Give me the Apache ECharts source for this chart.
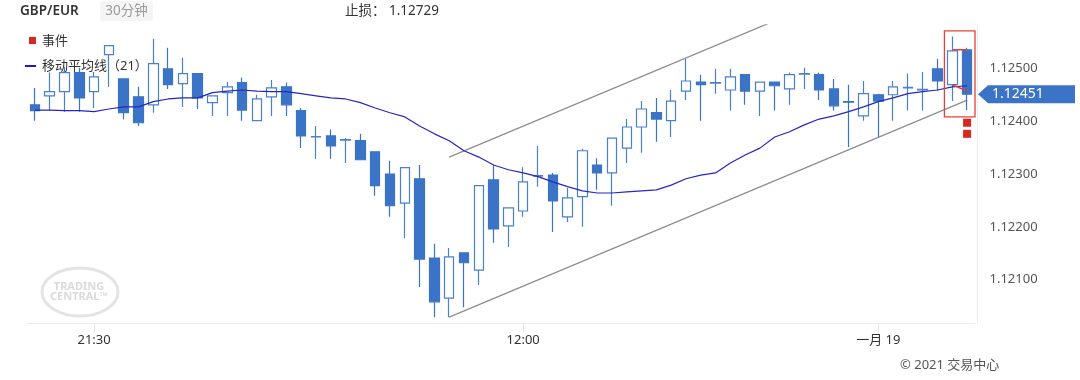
<!DOCTYPE html>
<html><head><meta charset="utf-8">
<script src="https://cdn.jsdelivr.net/npm/echarts@6/dist/echarts.min.js"></script>
<style>html,body{margin:0;padding:0;background:#fff}#c{width:1080px;height:380px}</style>
</head><body><div id="c"></div>
<script>
// ---- data ----
const categories = [
 '01-17 19:30','01-17 20:00','01-17 20:30','01-17 21:00','01-17 21:30','01-17 22:00','01-17 22:30','01-17 23:00','01-17 23:30',
 '01-18 00:00','01-18 00:30','01-18 01:00','01-18 01:30','01-18 02:00','01-18 02:30','01-18 03:00','01-18 03:30','01-18 04:00','01-18 04:30',
 '01-18 05:00','01-18 05:30','01-18 06:00','01-18 06:30','01-18 07:00','01-18 07:30','01-18 08:00','01-18 08:30','01-18 09:00','01-18 09:30',
 '01-18 10:00','01-18 10:30','01-18 11:00','01-18 11:30','01-18 12:00','01-18 12:30','01-18 13:00','01-18 13:30','01-18 14:00','01-18 14:30',
 '01-18 15:00','01-18 15:30','01-18 16:00','01-18 16:30','01-18 17:00','01-18 17:30','01-18 18:00','01-18 18:30','01-18 19:00','01-18 19:30',
 '01-18 20:00','01-18 20:30','01-18 21:00','01-18 21:30','01-18 22:00','01-18 22:30','01-18 23:00','01-18 23:30',
 '01-19 00:00','01-19 00:30','01-19 01:00','01-19 01:30','01-19 02:00','01-19 02:30','01-19 03:00'
];
const xTickLabels = {4: '21:30', 33: '12:00', 57: '一月 19'};

const openVals = [
 1.12431,1.12448,1.12456,1.12492,1.12456,1.12526,1.12480,1.12446,1.12431,1.12499,
 1.12471,1.12490,1.12435,1.12454,1.12473,1.12401,1.12446,1.12465,1.12420,1.12370,
 1.12372,1.12364,1.12363,1.12342,1.12300,1.12245,1.12291,1.12141,1.12065,1.12151,
 1.12118,1.12289,1.12202,1.12230,1.12296,1.12298,1.12219,1.12257,1.12317,1.12302,
 1.12349,1.12389,1.12416,1.12401,1.12457,1.12474,1.12472,1.12459,1.12488,1.12457,
 1.12474,1.12461,1.12489,1.12488,1.12461,1.12437,1.12410,1.12450,1.12450,1.12463,
 1.12459,1.12499,1.12469,1.12535
];
const closeVals = [
 1.12420,1.12456,1.12492,1.12444,1.12484,1.12543,1.12416,1.12397,1.12509,1.12469,
 1.12490,1.12444,1.12448,1.12465,1.12421,1.12442,1.12463,1.12431,1.12372,1.12371,
 1.12353,1.12365,1.12327,1.12278,1.12240,1.12312,1.12139,1.12058,1.12143,1.12132,
 1.12278,1.12196,1.12236,1.12285,1.12297,1.12249,1.12255,1.12344,1.12302,1.12368,
 1.12389,1.12423,1.12404,1.12438,1.12476,1.12469,1.12473,1.12484,1.12457,1.12474,
 1.12467,1.12488,1.12490,1.12459,1.12429,1.12436,1.12452,1.12438,1.12465,1.12464,
 1.12460,1.12476,1.12533,1.12451
];
const lowVals = [
 1.12401,1.12420,1.12418,1.12418,1.12425,1.12465,1.12403,1.12391,1.12416,1.12461,
 1.12427,1.12423,1.12410,1.12410,1.12401,1.12401,1.12410,1.12410,1.12349,1.12329,
 1.12329,1.12321,1.12327,1.12259,1.12219,1.12179,1.12086,1.12029,1.12029,1.12048,
 1.12090,1.12170,1.12162,1.12219,1.12276,1.12190,1.12209,1.12200,1.12270,1.12240,
 1.12321,1.12340,1.12361,1.12370,1.12440,1.12401,1.12452,1.12420,1.12431,1.12410,
 1.12420,1.12431,1.12461,1.12440,1.12420,1.12351,1.12401,1.12370,1.12401,1.12420,
 1.12420,1.12457,1.12438,1.12421
];
const highVals = [
 1.12463,1.12492,1.12503,1.12501,1.12493,1.12543,1.12480,1.12465,1.12556,1.12539,
 1.12520,1.12490,1.12448,1.12474,1.12482,1.12450,1.12478,1.12473,1.12425,1.12391,
 1.12384,1.12368,1.12376,1.12342,1.12325,1.12313,1.12317,1.12168,1.12160,1.12151,
 1.12279,1.12317,1.12236,1.12313,1.12353,1.12302,1.12274,1.12348,1.12330,1.12368,
 1.12404,1.12438,1.12444,1.12459,1.12518,1.12488,1.12499,1.12499,1.12488,1.12474,
 1.12474,1.12492,1.12501,1.12492,1.12480,1.12469,1.12476,1.12452,1.12476,1.12490,
 1.12493,1.12518,1.12560,1.12539
];
const ma21 = [
 1.12421,1.12421,1.12420,1.12420,1.12418,1.12423,1.12427,1.12427,1.12437,1.12442,
 1.12444,1.12444,1.12454,1.12457,1.12459,1.12457,1.12456,1.12456,1.12452,1.12448,
 1.12444,1.12442,1.12435,1.12425,1.12416,1.12408,1.12391,1.12376,1.12363,1.12344,
 1.12332,1.12317,1.12308,1.12302,1.12295,1.12285,1.12276,1.12268,1.12264,1.12264,
 1.12266,1.12268,1.12270,1.12279,1.12291,1.12298,1.12302,1.12321,1.12336,1.12349,
 1.12370,1.12380,1.12393,1.12404,1.12410,1.12418,1.12427,1.12437,1.12444,1.12452,
 1.12456,1.12459,1.12465,1.12467
];
// channel lines: [categoryIndex, price]
const channelUpper = [[28, 1.12332], [50, 1.12590]];
const channelLower = [[28, 1.12029], [63, 1.12440]];
// highlighted event candles
const eventPoints = [[63, 1.12397], [63, 1.12376]];
const highlightTop = [[62, 1.12535], [63, 1.12535]];
const highlightBottom = [[62, 1.12469], [63, 1.12457]];
const highlightRange = {from: 62, to: 63, high: 1.12571, low: 1.12408};
const stopLoss = 1.12729;
const yMin = 1.12018, yMax = 1.12582;

// ---- chart ----
const FONT = "'Noto Sans', 'Noto Sans CJK SC', sans-serif";
const BLUE = '#3b74c6';
const chart = echarts.init(document.getElementById('c'), null, {renderer: 'canvas'});
const gridLeft = 27.5, gridRight = 105.5, gridTop = 25, gridBottom = 57;

chart.setOption({
  animation: false,
  backgroundColor: '#ffffff',
  textStyle: {fontFamily: FONT},
  grid: {left: gridLeft, right: gridRight, top: gridTop, bottom: gridBottom, containLabel: false},
  xAxis: {
    type: 'category', data: categories, boundaryGap: true,
    axisLine: {show: true, lineStyle: {color: '#ececec', width: 1}},
    axisTick: {show: true, alignWithLabel: true, length: 9, lineStyle: {color: '#e6e6e6'},
      interval: (i) => xTickLabels[i] !== undefined},
    axisLabel: {color: '#333', fontSize: 13, margin: 11, fontFamily: FONT,
      interval: (i) => xTickLabels[i] !== undefined,
      formatter: (v, i) => xTickLabels[i] || ''},
    splitLine: {show: false}
  },
  yAxis: {
    type: 'value', position: 'right', min: yMin, max: yMax, splitNumber: 5, offset: 3,
    axisLine: {show: true, lineStyle: {color: '#ececec'}},
    axisTick: {show: false},
    splitLine: {show: false},
    axisLabel: {color: '#555', fontSize: 13, margin: 12, fontFamily: FONT,
      showMinLabel: false, showMaxLabel: false,
      formatter: (v) => Math.abs(v * 1000 - Math.round(v * 1000)) < 1e-6 ? v.toFixed(5) : ''}
  },
  series: [
    {
      name: 'GBP/EUR', type: 'candlestick', barWidth: 10, z: 3,
      data: openVals.map((o, i) => [o, closeVals[i], lowVals[i], highVals[i]]),
      itemStyle: {color: '#ffffff', color0: BLUE, borderColor: '#4a80d0', borderColor0: BLUE, borderWidth: 1.2}
    },
    {
      name: '移动平均线（21）', type: 'line', data: ma21, symbol: 'none', z: 4,
      lineStyle: {color: '#2626c2', width: 1.2}
    },
    {type: 'line', data: channelUpper, symbol: 'none', z: 2, silent: true, clip: true,
      lineStyle: {color: '#8e8e8e', width: 1.3}},
    {type: 'line', data: channelLower, symbol: 'none', z: 2, silent: true, clip: true,
      lineStyle: {color: '#8e8e8e', width: 1.3}},
    {type: 'line', data: highlightTop, symbol: 'none', z: 5, silent: true,
      lineStyle: {color: '#e5403a', width: 1.5}},
    {type: 'line', data: highlightBottom, symbol: 'none', z: 5, silent: true,
      lineStyle: {color: '#e5403a', width: 1.5}},
    {name: '事件', type: 'scatter', data: eventPoints, symbol: 'rect', symbolSize: 8, z: 5,
      itemStyle: {color: '#d6281f', opacity: 1}}
  ]
});

const px = (i, v) => chart.convertToPixel({gridIndex: 0}, [i, v]);
const bandHalf = (px(1, yMin)[0] - px(0, yMin)[0]) / 2;
const boxL = px(highlightRange.from, yMin)[0] - bandHalf - 0.5;
const boxR = px(highlightRange.to, yMin)[0] + bandHalf + 0.5;
const boxT = px(0, highlightRange.high)[1];
const boxB = px(0, highlightRange.low)[1];
const lastClose = closeVals[closeVals.length - 1];
const priceY = px(0, lastClose)[1];
const tipX = 1080 - gridRight + 3.5;

chart.setOption({
  graphic: [
    // header
    {type: 'text', x: 20, y: 11, style: {text: 'GBP/EUR', fill: '#333', fontSize: 13.5, fontWeight: 600, fontFamily: FONT, verticalAlign: 'middle'}},
    {type: 'rect', shape: {x: 100, y: 1, width: 53, height: 20, r: 3}, style: {fill: '#f5f5f5'}},
    {type: 'text', x: 126.5, y: 11, style: {text: '30分钟', fill: '#9a9a9a', fontSize: 13.5, fontFamily: FONT, align: 'center', verticalAlign: 'middle'}},
    {type: 'text', x: 345, y: 11, style: {text: '止损： ' + stopLoss.toFixed(5), fill: '#333', fontSize: 13.5, fontFamily: FONT, align: 'left', verticalAlign: 'middle'}},
    // legend
    {type: 'rect', shape: {x: 29, y: 37, width: 7, height: 7}, style: {fill: '#d6281f'}},
    {type: 'text', x: 42, y: 41, style: {text: '事件', fill: '#333', fontSize: 13, fontFamily: FONT, verticalAlign: 'middle'}},
    {type: 'rect', shape: {x: 25, y: 65, width: 11, height: 2}, style: {fill: '#1c1cc0'}},
    {type: 'text', x: 42, y: 66, style: {text: '移动平均线（21）', fill: '#333', fontSize: 13, fontFamily: FONT, verticalAlign: 'middle'}},
    // watermark
    {type: 'ellipse', shape: {cx: 80, cy: 292, rx: 38, ry: 24}, style: {fill: 'none', stroke: '#e4e4e4', lineWidth: 3}},
    {type: 'text', x: 79, y: 287, style: {text: 'TRADING', fill: '#dadada', fontSize: 11, fontWeight: 'bold', fontFamily: FONT, align: 'center', verticalAlign: 'middle'}},
    {type: 'text', x: 79, y: 297, style: {text: 'CENTRAL™', fill: '#dadada', fontSize: 11, fontWeight: 'bold', fontFamily: FONT, align: 'center', verticalAlign: 'middle'}},
    // highlight box
    {type: 'rect', shape: {x: boxL, y: boxT, width: boxR - boxL, height: boxB - boxT}, z: 10,
      style: {fill: 'none', stroke: '#e5403a', lineWidth: 1.3}},
    // price tag
    {type: 'polygon', shape: {points: [[tipX, priceY], [tipX + 10, priceY - 9], [tipX + 10, priceY + 9]]}, style: {fill: BLUE}},
    {type: 'rect', shape: {x: tipX + 10, y: priceY - 9, width: 87, height: 18}, style: {fill: BLUE}},
    {type: 'text', x: tipX + 14, y: priceY, style: {text: lastClose.toFixed(5), fill: '#fff', fontSize: 14, fontFamily: FONT, verticalAlign: 'middle'}},
    // copyright
    {type: 'text', x: 900, y: 365, style: {text: '© 2021 交易中心', fill: '#555', fontSize: 13, fontFamily: FONT, verticalAlign: 'middle'}}
  ]
});
</script>
</body></html>
